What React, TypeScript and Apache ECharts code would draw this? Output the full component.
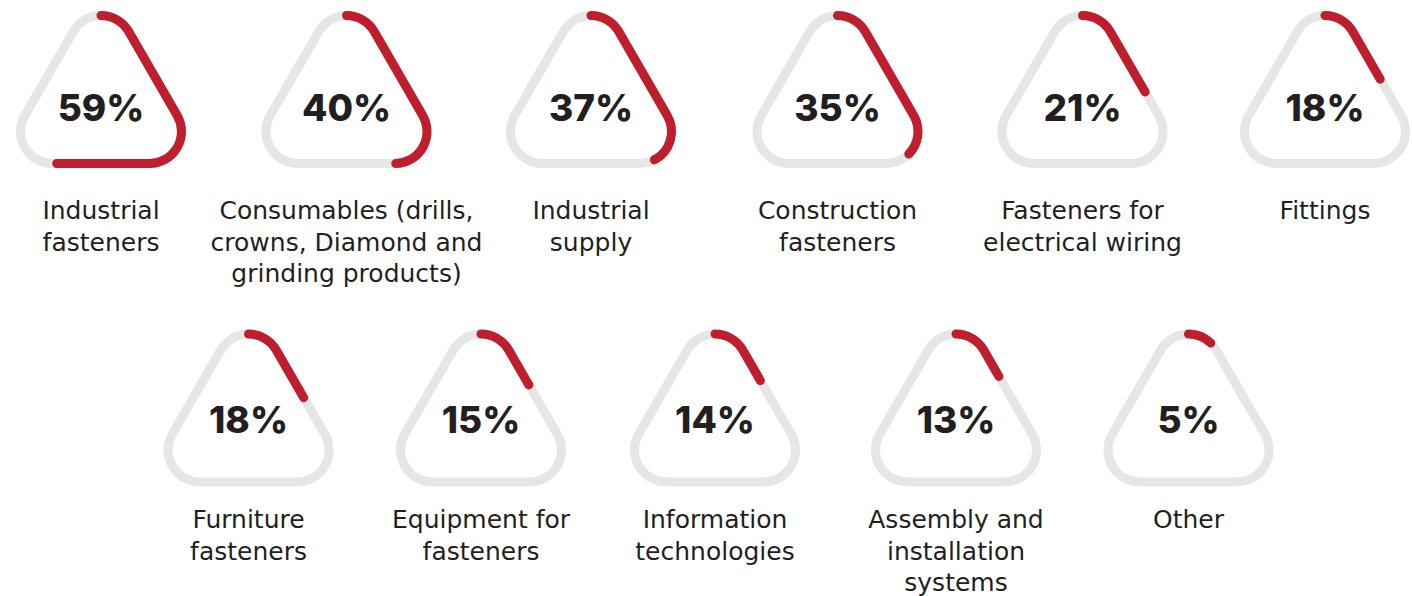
import React, { useEffect, useRef } from "react";
import * as echarts from "echarts";

// ---- data ----
const categories: string[] = [
  "Industrial\nfasteners",
  "Consumables (drills,\ncrowns, Diamond and\ngrinding products)",
  "Industrial\nsupply",
  "Construction\nfasteners",
  "Fasteners for\nelectrical wiring",
  "Fittings",
  "Furniture\nfasteners",
  "Equipment for\nfasteners",
  "Information\ntechnologies",
  "Assembly and\ninstallation\nsystems",
  "Other",
];
const shares: number[] = [59, 40, 37, 35, 21, 18, 18, 15, 14, 13, 5];

// ---- layout ----
const ROW_SIZE = 6;
const ROW_TOPS = [11, 329.5];
const ROW1_X = [101, 346.5, 591, 837.5, 1082.5, 1325];
const ROW2_X = [248.5, 481, 715, 956, 1188.5];
const PCT_Y = [107, 419];
const LABEL_Y = [210.5, 519.5];
const R = 32; // corner radius (centerline)
const SIDE = 97; // straight side length
const STROKE = 9;
const RED = "#BE1E2D";
const GRAY = "#E6E6E6";
const INK = "#231F20";
const PCT_FONT = "Inter, 'Noto Sans', sans-serif";
const LABEL_FONT = "'DejaVu Sans', 'Noto Sans', sans-serif";

type Pt = { x: number; y: number };

function trianglePath(cx: number, top: number, frac: number, close: boolean): string {
  const h = (SIDE * Math.sqrt(3)) / 2;
  const T: Pt = { x: cx, y: top + STROKE / 2 + R };
  const BR: Pt = { x: cx + SIDE / 2, y: T.y + h };
  const BL: Pt = { x: cx - SIDE / 2, y: T.y + h };
  const d2r = Math.PI / 180;
  const at = (c: Pt, a: number): Pt => ({ x: c.x + R * Math.cos(a * d2r), y: c.y + R * Math.sin(a * d2r) });
  const arcs: [Pt, number, number][] = [
    [T, -90, -30],
    [BR, -30, 90],
    [BL, 90, 210],
    [T, 210, 270],
  ];
  type Seg = { kind: "arc"; c: Pt; a0: number; a1: number } | { kind: "line"; p0: Pt; p1: Pt };
  const segs: Seg[] = [];
  arcs.forEach(([c, a0, a1], i) => {
    segs.push({ kind: "arc", c, a0, a1 });
    if (i < arcs.length - 1) {
      const [nc, na0] = arcs[i + 1];
      segs.push({ kind: "line", p0: at(c, a1), p1: at(nc, na0) });
    }
  });
  const perim = 3 * SIDE + 2 * Math.PI * R;
  let remaining = frac * perim;
  const start = at(T, -90);
  let d = `M ${start.x} ${start.y}`;
  for (const s of segs) {
    if (remaining <= 0.0001) break;
    if (s.kind === "arc") {
      const len = (R * (s.a1 - s.a0) * Math.PI) / 180;
      const use = Math.min(len, remaining);
      const ea = s.a0 + (use / R) / d2r;
      const e = at(s.c, ea);
      d += ` A ${R} ${R} 0 0 1 ${e.x} ${e.y}`;
      remaining -= use;
    } else {
      const len = Math.hypot(s.p1.x - s.p0.x, s.p1.y - s.p0.y);
      const use = Math.min(len, remaining);
      const t = use / len;
      d += ` L ${s.p0.x + (s.p1.x - s.p0.x) * t} ${s.p0.y + (s.p1.y - s.p0.y) * t}`;
      remaining -= use;
    }
  }
  if (close) d += " Z";
  return d;
}

export default function App() {
  const ref = useRef<HTMLDivElement>(null);
  useEffect(() => {
    if (!ref.current) return;
    const chart = echarts.init(ref.current, undefined, { renderer: "svg" });
    chart.setOption({
      animation: false,
      backgroundColor: "#ffffff",
      series: [
        {
          type: "custom",
          coordinateSystem: "none",
          data: shares.map((v, i) => [i, v]),
          renderItem: (params: any, api: any) => {
            const i = params.dataIndex;
            const v = api.value(1) as number;
            const row = i < ROW_SIZE ? 0 : 1;
            const cx = row === 0 ? ROW1_X[i] : ROW2_X[i - ROW_SIZE];
            const top = ROW_TOPS[row];
            return {
              type: "group",
              children: [
                {
                  type: "path",
                  shape: { pathData: trianglePath(cx, top, 1, true) },
                  style: { fill: "none", stroke: GRAY, lineWidth: STROKE, lineJoin: "round" },
                },
                {
                  type: "path",
                  shape: { pathData: trianglePath(cx, top, v / 100, false) },
                  style: { fill: "none", stroke: RED, lineWidth: STROKE, lineCap: "round", lineJoin: "round" },
                },
                {
                  type: "text",
                  x: cx,
                  y: PCT_Y[row],
                  style: {
                    text: `${v}%`,
                    fill: INK,
                    fontFamily: PCT_FONT,
                    fontWeight: 800,
                    fontSize: 37,
                    align: "center",
                    verticalAlign: "middle",
                  },
                },
                {
                  type: "text",
                  x: cx,
                  y: LABEL_Y[row] - 15.75,
                  style: {
                    text: categories[i],
                    fill: INK,
                    fontFamily: LABEL_FONT,
                    fontWeight: 400,
                    fontSize: 25,
                    lineHeight: 31.5,
                    align: "center",
                    verticalAlign: "top",
                  },
                },
              ],
            };
          },
        },
      ],
    });
    return () => chart.dispose();
  }, []);
  return (
    <div
      ref={ref}
      style={{ position: "absolute", left: 0, top: 0, width: 1412, height: 596 }}
    />
  );
}
